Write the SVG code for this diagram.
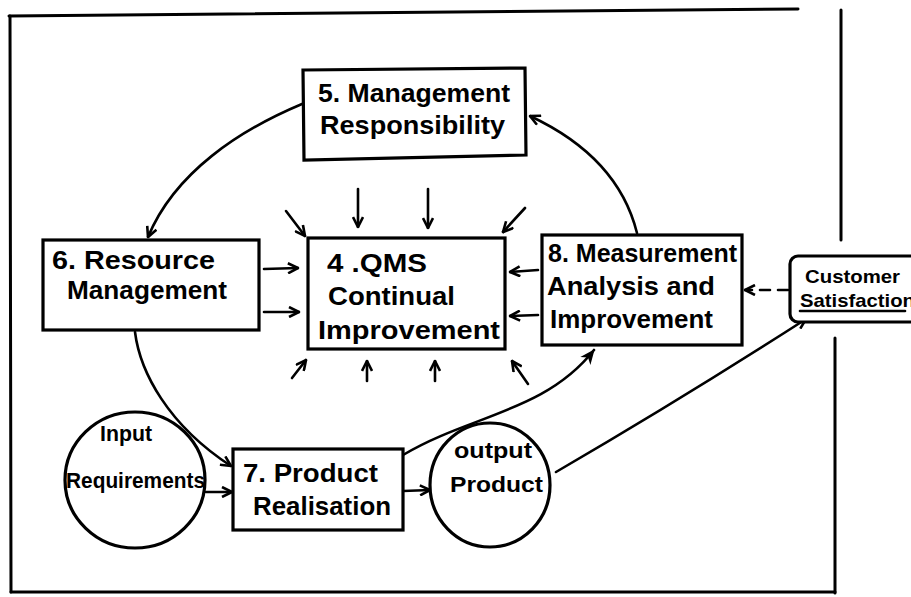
<svg xmlns="http://www.w3.org/2000/svg" width="911" height="597" viewBox="0 0 911 597">
  <defs>
    <marker id="head" viewBox="0 0 12 12" refX="11" refY="6" markerWidth="12" markerHeight="12" markerUnits="userSpaceOnUse" orient="auto">
      <path d="M1,1 L11,6 L1,11" fill="none" stroke="#000" stroke-width="2.6" stroke-linejoin="miter"/>
    </marker>
    <marker id="headFill" viewBox="0 0 14 14" refX="13" refY="7" markerWidth="15" markerHeight="15" markerUnits="userSpaceOnUse" orient="auto">
      <path d="M0,1 L14,7 L0,13 L4,7 Z" fill="#000"/>
    </marker>
  </defs>
  <style>
    .frame { fill: none; stroke: #000; stroke-width: 3; stroke-linecap: round; }
    .box { fill: #fff; stroke: #000; stroke-width: 3.2; }
    .line { fill: none; stroke: #000; stroke-width: 2.6; stroke-linecap: round; }
    .arrow { fill: none; stroke: #000; stroke-width: 2.6; stroke-linecap: round; marker-end: url(#head); }
    .lbl { font-family: "Liberation Sans", "DejaVu Sans", sans-serif; font-weight: bold; fill: #000; }
    .big { font-size: 25px; }
    .mid { font-size: 22px; }
    .small { font-size: 19px; }
  </style>

  <rect width="911" height="597" fill="#fff"/>

  <!-- outer page frame -->
  <g id="frame">
    <path class="frame" d="M9,16 L798,9"/>
    <path class="frame" d="M10,16 L11,592"/>
    <path class="frame" d="M11,592 L835,592" stroke-width="2.4"/>
    <path class="frame" d="M841,10 L841,240"/>
    <path class="frame" d="M835,338 L835,593"/>
  </g>

  <!-- connectors -->
  <g id="connectors">
    <!-- cycle around the main boxes -->
    <path class="arrow" d="M302,104 C240,130 175,172 148,237"/>
    <path class="arrow" d="M637,233 C625,185 592,145 530,116"/>
    <path class="arrow" d="M135,332 C140,372 168,425 231,466"/>
    <path class="line" d="M403,455 C470,415 545,412 594,350" marker-end="url(#headFill)"/>
    <path class="arrow" d="M556,472 Q680,400 806,319"/>
    <path class="arrow" d="M206,492 L232,492"/>
    <path class="arrow" d="M403,491 L430,490"/>
    <path class="arrow" d="M788,290 L745,290" stroke-dasharray="10,8"/>

    <!-- inputs into QMS from above -->
    <path class="arrow" d="M358,189 L358,227"/>
    <path class="arrow" d="M428,189 L428,228"/>
    <path class="arrow" d="M286,211 L305,236"/>
    <path class="arrow" d="M525,208 L503,232"/>
    <!-- from resource management -->
    <path class="arrow" d="M264,269 L298,268"/>
    <path class="arrow" d="M264,312 L299,312"/>
    <!-- from measurement -->
    <path class="arrow" d="M538,270 L510,272"/>
    <path class="arrow" d="M538,315 L510,316"/>
    <!-- from below -->
    <path class="arrow" d="M292,378 L306,360"/>
    <path class="arrow" d="M367,381 L367,361"/>
    <path class="arrow" d="M435,381 L435,361"/>
    <path class="arrow" d="M528,384 L512,361"/>
  </g>

  <g id="mgmt-responsibility">
    <path class="box" d="M303,70 L525,68 L526,155 L304,160 Z"/>
    <text class="lbl big" x="318" y="102" textLength="192" lengthAdjust="spacingAndGlyphs">5. Management</text>
    <text class="lbl big" x="320" y="134" textLength="185" lengthAdjust="spacingAndGlyphs">Responsibility</text>
  </g>

  <g id="resource-management">
    <rect class="box" x="43" y="240" width="216" height="90"/>
    <text class="lbl big" x="52" y="269" textLength="163" lengthAdjust="spacingAndGlyphs">6. Resource</text>
    <text class="lbl big" x="67" y="299" textLength="160" lengthAdjust="spacingAndGlyphs">Management</text>
  </g>

  <g id="qms">
    <rect class="box" x="308" y="238" width="197" height="111"/>
    <text class="lbl big" x="327" y="272" textLength="100" lengthAdjust="spacingAndGlyphs">4 .QMS</text>
    <text class="lbl big" x="328" y="305" textLength="127" lengthAdjust="spacingAndGlyphs">Continual</text>
    <text class="lbl big" x="318" y="339" textLength="182" lengthAdjust="spacingAndGlyphs">Improvement</text>
  </g>

  <g id="measurement">
    <rect class="box" x="542" y="235" width="200" height="110"/>
    <text class="lbl big" x="548" y="262" textLength="189" lengthAdjust="spacingAndGlyphs">8. Measurement</text>
    <text class="lbl big" x="547" y="295" textLength="168" lengthAdjust="spacingAndGlyphs">Analysis and</text>
    <text class="lbl big" x="550" y="328" textLength="163" lengthAdjust="spacingAndGlyphs">Improvement</text>
  </g>

  <g id="customer-satisfaction">
    <rect class="box" x="790" y="256" width="135" height="66" rx="8"/>
    <text class="lbl small" x="805" y="283" textLength="95" lengthAdjust="spacingAndGlyphs">Customer</text>
    <text class="lbl small" x="800" y="307" textLength="115" lengthAdjust="spacingAndGlyphs">Satisfaction</text>
    <path class="line" d="M800,311 L905,311" stroke-width="2"/>
  </g>

  <g id="input-requirements">
    <ellipse class="box" cx="135" cy="480" rx="70" ry="68" fill="none" style="fill:none"/>
    <text class="lbl mid" x="100" y="441" textLength="52" lengthAdjust="spacingAndGlyphs">Input</text>
    <text class="lbl mid" x="66" y="488" textLength="139" lengthAdjust="spacingAndGlyphs">Requirements</text>
  </g>

  <g id="product-realisation">
    <rect class="box" x="233" y="449" width="170" height="81"/>
    <text class="lbl big" x="243" y="482" textLength="135" lengthAdjust="spacingAndGlyphs">7. Product</text>
    <text class="lbl big" x="253" y="515" textLength="138" lengthAdjust="spacingAndGlyphs">Realisation</text>
  </g>

  <g id="output-product">
    <ellipse class="box" cx="490" cy="485" rx="60" ry="62"/>
    <text class="lbl mid" x="454" y="458" textLength="78" lengthAdjust="spacingAndGlyphs">output</text>
    <text class="lbl mid" x="450" y="492" textLength="93" lengthAdjust="spacingAndGlyphs">Product</text>
  </g>
</svg>
